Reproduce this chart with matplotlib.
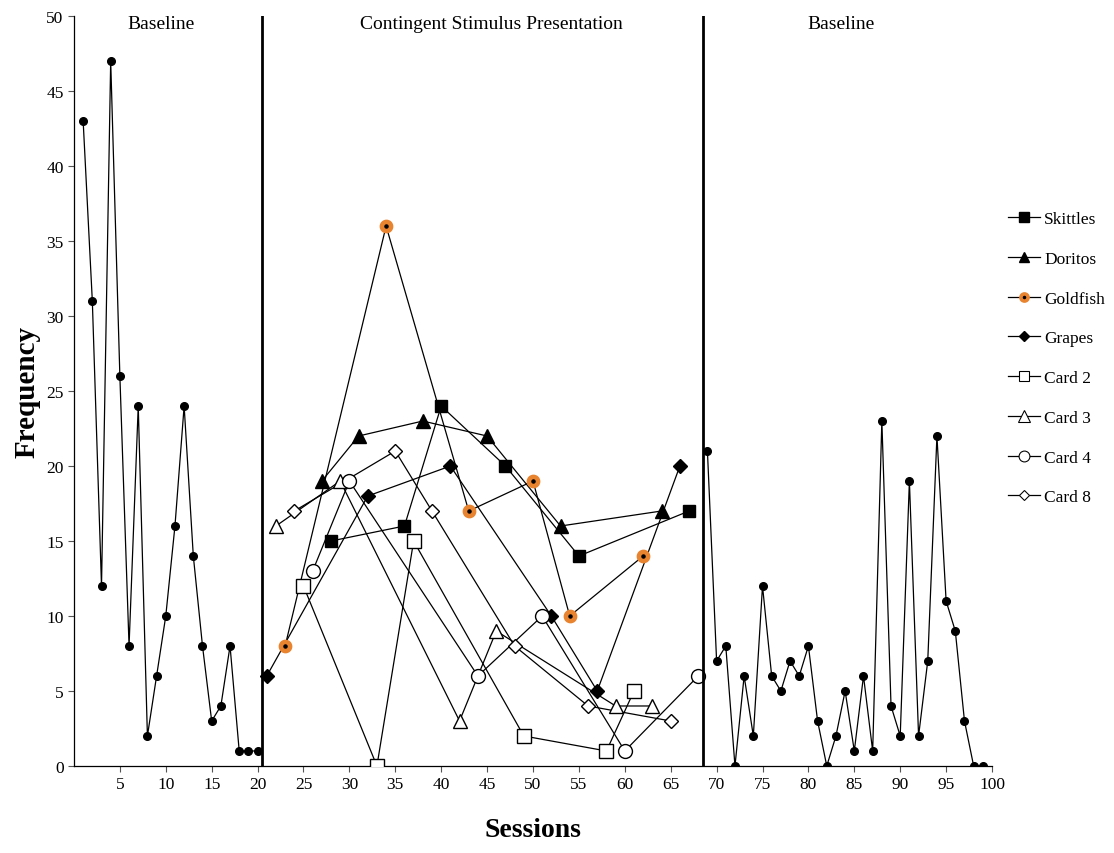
import matplotlib
matplotlib.use("Agg")
import matplotlib.pyplot as plt
from matplotlib.lines import Line2D

plt.rcParams['font.family'] = ['Liberation Serif', 'DejaVu Serif']

# ---- data ----
baseline1_x = list(range(1, 21))
baseline1_y = [43, 31, 12, 47, 26, 8, 24, 2, 6, 10, 16, 24, 14, 8, 3, 4, 8, 1, 1, 1]

baseline2_x = list(range(69, 100))
baseline2_y = [21, 7, 8, 0, 6, 2, 12, 6, 5, 7, 6, 8, 3, 0, 2, 5, 1, 6, 1, 23,
               4, 2, 19, 2, 7, 22, 11, 9, 3, 0, 0]

skittles_x = [28, 36, 40, 47, 55, 67]
skittles_y = [15, 16, 24, 20, 14, 17]
doritos_x = [27, 31, 38, 45, 53, 64]
doritos_y = [19, 22, 23, 22, 16, 17]
goldfish_x = [23, 34, 43, 50, 54, 62]
goldfish_y = [8, 36, 17, 19, 10, 14]
grapes_x = [21, 32, 41, 52, 57, 66]
grapes_y = [6, 18, 20, 10, 5, 20]
card2_x = [25, 33, 37, 49, 58, 61]
card2_y = [12, 0, 15, 2, 1, 5]
card3_x = [22, 29, 42, 46, 59, 63]
card3_y = [16, 19, 3, 9, 4, 4]
card4_x = [26, 30, 44, 51, 60, 68]
card4_y = [13, 19, 6, 10, 1, 6]
card8_x = [24, 35, 39, 48, 56, 65]
card8_y = [17, 21, 17, 8, 4, 3]

phase_lines = [20.5, 68.5]
phase_labels = ["Baseline", "Contingent Stimulus Presentation", "Baseline"]
phase_label_x = [9.5, 45.5, 83.5]

x_ticks = list(range(5, 101, 5))
y_ticks = list(range(0, 51, 5))

# ---- figure ----
fig = plt.figure(figsize=(11.14, 8.54), dpi=100)
ax = fig.add_axes([0.0664, 0.1019, 0.8241, 0.8781])

lw = 0.9
orange = '#E8832F'

ax.plot(baseline1_x, baseline1_y, color='black', lw=lw, marker='o', ms=5.5,
        mfc='black', mec='black', zorder=3)
ax.plot(baseline2_x, baseline2_y, color='black', lw=lw, marker='o', ms=5.5,
        mfc='black', mec='black', zorder=3)

series = [
    ("Skittles", skittles_x, skittles_y, dict(marker='s', ms=9, mfc='black', mec='black')),
    ("Doritos", doritos_x, doritos_y, dict(marker='^', ms=10, mfc='black', mec='black')),
    ("Goldfish", goldfish_x, goldfish_y, dict(marker='o', ms=6.6, mfc='black', mec=orange, mew=3.3)),
    ("Grapes", grapes_x, grapes_y, dict(marker='D', ms=7, mfc='black', mec='black')),
    ("Card 2", card2_x, card2_y, dict(marker='s', ms=10, mfc='white', mec='black', mew=1.0)),
    ("Card 3", card3_x, card3_y, dict(marker='^', ms=10.5, mfc='white', mec='black', mew=1.0)),
    ("Card 4", card4_x, card4_y, dict(marker='o', ms=10, mfc='white', mec='black', mew=1.0)),
    ("Card 8", card8_x, card8_y, dict(marker='D', ms=7, mfc='white', mec='black', mew=1.0)),
]

handles = []
for name, xs, ys, st in series:
    ax.plot(xs, ys, color='black', lw=lw, zorder=2)
for name, xs, ys, st in series:
    ax.plot(xs, ys, ls='none', zorder=4, **st)
    hst = dict(st)
    hst['ms'] = st['ms'] * 0.78
    if 'mew' in st:
        hst['mew'] = st['mew'] * 0.78
    handles.append(Line2D([0], [0], color='black', lw=lw, label=name, **hst))

for xv in phase_lines:
    ax.axvline(xv, color='black', lw=2.0, zorder=5)

for lbl, xv in zip(phase_labels, phase_label_x):
    ax.text(xv, 49.5, lbl, ha='center', va='center', fontsize=14)

ax.set_xlim(0, 100)
ax.set_ylim(0, 50)
ax.set_xticks(x_ticks)
ax.set_yticks(y_ticks)
ax.tick_params(axis='both', labelsize=12.5, direction='out', length=4, width=0.8, color='#555555')
ax.spines['top'].set_visible(False)
ax.spines['right'].set_visible(False)
for s in ['left', 'bottom']:
    ax.spines[s].set_linewidth(0.9)

ax.set_xlabel("Sessions", fontsize=20, fontweight='bold', labelpad=18)
ax.set_ylabel("Frequency", fontsize=21, fontweight='bold', labelpad=4)

fig.legend(handles=handles, loc='upper left', bbox_to_anchor=(0.899, 0.760),
           frameon=False, fontsize=12.5, handlelength=1.8, handletextpad=0.25,
           labelspacing=1.36, borderaxespad=0)

fig.savefig("out.png", dpi=100)
